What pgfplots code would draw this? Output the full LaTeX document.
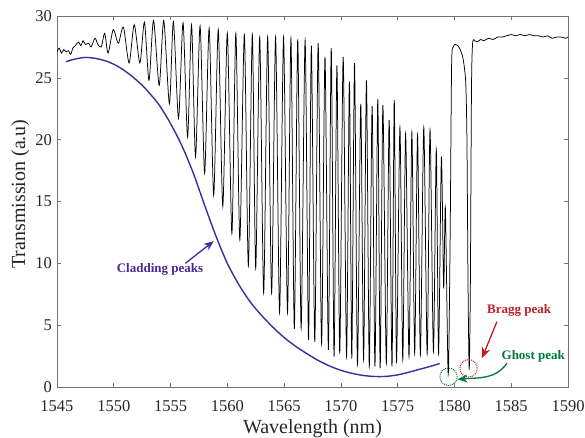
\documentclass[border=0pt]{standalone}
\usepackage{fontspec}
\setmainfont{Liberation Serif}
\usepackage{pgfplots}
\pgfplotsset{compat=1.18}
\usetikzlibrary{arrows.meta}
\definecolor{cladblue}{RGB}{62,44,160}
\definecolor{cladtext}{RGB}{72,40,150}
\definecolor{braggred}{RGB}{190,30,40}
\definecolor{ghostgreen}{RGB}{0,120,60}
\begin{document}
\begin{tikzpicture}
\begin{axis}[
 scale only axis, width=511pt, height=371pt,
 xmin=1545, xmax=1590, ymin=0, ymax=30,
 xtick={1545,1550,...,1590}, ytick={0,5,...,30},
 /pgf/number format/1000 sep={},
 /pgf/number format/assume math mode=true,
 tick label style={font=\fontsize{16.5}{18}\selectfont, text=black!85},
 tick align=inside, major tick length=4pt,
 axis line style={black!55, line width=0.7pt},
 every tick/.style={black!55, line width=0.6pt},
 xlabel={Wavelength (nm)}, ylabel={Transmission (a.u)},
 every axis x label/.style={at={(axis description cs:0.5,-0.124)},anchor=base,font=\fontsize{20}{24}\selectfont,text=black!85},
 every axis y label/.style={at={(axis description cs:-0.0626,0.52)},rotate=90,anchor=base,font=\fontsize{20}{24}\selectfont,text=black!85},
 xticklabel style={yshift=-10pt},
 yticklabel style={xshift=-1.5pt},
 clip mode=individual,
]
\coordinate (SW) at (rel axis cs:0,0);
\coordinate (NE) at (rel axis cs:1,1);
\addplot[black, line width=0.75pt, smooth, tension=0.45] coordinates {
(1545.0,27.1) (1545.2,27.4) (1545.4,27.0) (1545.6,27.3) (1545.8,27.1) (1546.0,27.2)
(1546.2,26.9) (1546.4,27.4) (1546.6,27.6) (1546.9,27.9) (1547.1,27.6) (1547.3,28.0)
(1547.5,27.7) (1547.8,27.8) (1548.0,27.5) (1548.35,28.2) (1548.6,27.7) (1548.9,27.5)
(1549.2,28.6) (1549.5,27.0) (1549.95,28.9) (1550.4,27.8) (1550.85,29.1) (1551.35,26.2)
(1551.8,29.3) (1552.3,26.2) (1552.7,29.5) (1553.1,24.8) (1553.5,29.65) (1554.0,24.4)
(1554.4,29.65) (1554.9,22.9) (1555.25,29.55) (1555.7,21.7) (1556.1,29.45) (1556.5,20.2)
(1556.85,29.3) (1557.2,18.6) (1557.6,29.2) (1558.0,17.3) (1558.4,29.0) (1558.8,15.5)
(1559.2,28.9) (1559.6,14.6) (1560.0,28.6) (1560.4,12.4) (1560.75,28.6) (1561.1,11.9)
(1561.5,28.5) (1561.85,9.8) (1562.2,28.5) (1562.5,9.6) (1562.85,28.3) (1563.2,7.6)
(1563.55,28.3) (1563.9,7.6) (1564.25,28.3) (1564.6,6.0) (1564.95,28.3) (1565.3,6.0)
(1565.6,28.2) (1565.9,4.7) (1566.2,28.1) (1566.5,4.75) (1566.85,28.05) (1567.15,3.8)
(1567.4,27.6) (1567.7,3.65) (1568.0,27.8) (1568.3,3.5) (1568.6,26.7) (1568.9,3.0)
(1569.15,27.4) (1569.4,2.45) (1569.65,26.0) (1569.9,2.7) (1570.2,26.7) (1570.5,2.45)
(1570.75,24.7) (1570.96,2.3) (1571.2,26.2) (1571.46,1.8) (1571.75,22.9) (1572.0,2.2)
(1572.25,24.8) (1572.5,1.65) (1572.75,22.7) (1573.0,1.65) (1573.25,23.3) (1573.46,1.5)
(1573.7,22.8) (1574.0,1.9) (1574.25,21.6) (1574.5,1.65) (1574.7,23.2) (1574.9,2.05)
(1575.2,21.0) (1575.45,2.2) (1575.7,20.5) (1576.0,2.45) (1576.25,20.6) (1576.5,2.7)
(1576.75,20.4) (1577.0,2.6) (1577.3,21.0) (1577.6,2.7) (1577.85,20.8) (1578.15,2.85)
(1578.4,19.2) (1578.6,2.7) (1578.85,18.6) (1579.05,8.0) (1579.2,14.5) (1579.45,1.0)
(1579.62,12.0) (1579.75,26.0) (1579.9,27.5) (1580.1,27.7) (1580.3,27.6) (1580.5,27.3)
(1580.7,26.8) (1580.85,26.0) (1581.0,24.5) (1581.1,20.0) (1581.2,8.0) (1581.3,1.4)
(1581.4,8.0) (1581.5,24.0) (1581.6,27.8) (1581.8,28.0) (1582.0,27.9) (1582.3,28.1)
(1582.6,28.0) (1583.0,28.2) (1583.4,28.1) (1583.8,28.3) (1584.2,28.3) (1584.6,28.4)
(1585.0,28.5) (1585.4,28.4) (1585.8,28.5) (1586.2,28.4) (1586.6,28.5) (1587.0,28.4)
(1587.4,28.4) (1587.8,28.3) (1588.2,28.4) (1588.6,28.2) (1589.0,28.3) (1589.4,28.3)
(1589.8,28.2) (1590.0,28.3)
};
\addplot[cladblue, line width=1.4pt, smooth] coordinates {
(1545.8,26.3) (1546.5,26.5) (1547.5,26.65) (1548.5,26.55) (1549.5,26.3) (1550.5,25.85)
(1551.5,25.2) (1552.5,24.4) (1553.2,23.7) (1554.0,22.8) (1555.0,21.3) (1556.0,19.5)
(1557.0,17.3) (1558.0,14.7) (1559.0,12.2) (1560.0,10.0) (1561.0,8.3) (1562.0,6.9)
(1563.0,5.8) (1564.0,4.85) (1565.0,4.0) (1566.0,3.3) (1567.0,2.7) (1568.0,2.15)
(1569.0,1.7) (1570.0,1.35) (1571.0,1.1) (1572.0,0.93) (1573.0,0.85) (1574.0,0.86)
(1575.0,0.98) (1576.0,1.2) (1577.0,1.45) (1578.0,1.7) (1578.7,1.9)
};
\node[font=\fontsize{13}{15}\selectfont\bfseries, text=cladtext] at (axis cs:1554.07,9.54) {Cladding peaks};
\draw[cladblue, line width=1.3pt, -{Stealth[length=10pt,width=8pt]}] (axis cs:1556.3,10.0) -- (axis cs:1558.8,11.8);
\node[font=\fontsize{13}{15}\selectfont\bfseries, text=braggred] at (axis cs:1585.7,6.17) {Bragg peak};
\draw[braggred, line width=1.3pt, -{Stealth[length=11pt,width=9pt]}] (axis cs:1583.74,5.28) -- (axis cs:1582.42,2.32);
\draw[braggred, densely dotted, line width=1pt] (axis cs:1581.24,1.51) circle[radius=8.7pt];
\node[font=\fontsize{13}{15}\selectfont\bfseries, text=ghostgreen] at (axis cs:1586.94,2.5) {Ghost peak};
\draw[ghostgreen, line width=1.3pt, -{Stealth[length=10pt,width=8pt]}] (axis cs:1584.62,1.92) to[out=235,in=5] (axis cs:1580.27,0.62);
\draw[ghostgreen, densely dotted, line width=1pt] (axis cs:1579.48,0.83) circle[radius=8.7pt];
\end{axis}
\pgfresetboundingbox
\path ([shift={(-57pt,-50pt)}]SW) rectangle ([shift={(17pt,16pt)}]NE);
\end{tikzpicture}
\end{document}
